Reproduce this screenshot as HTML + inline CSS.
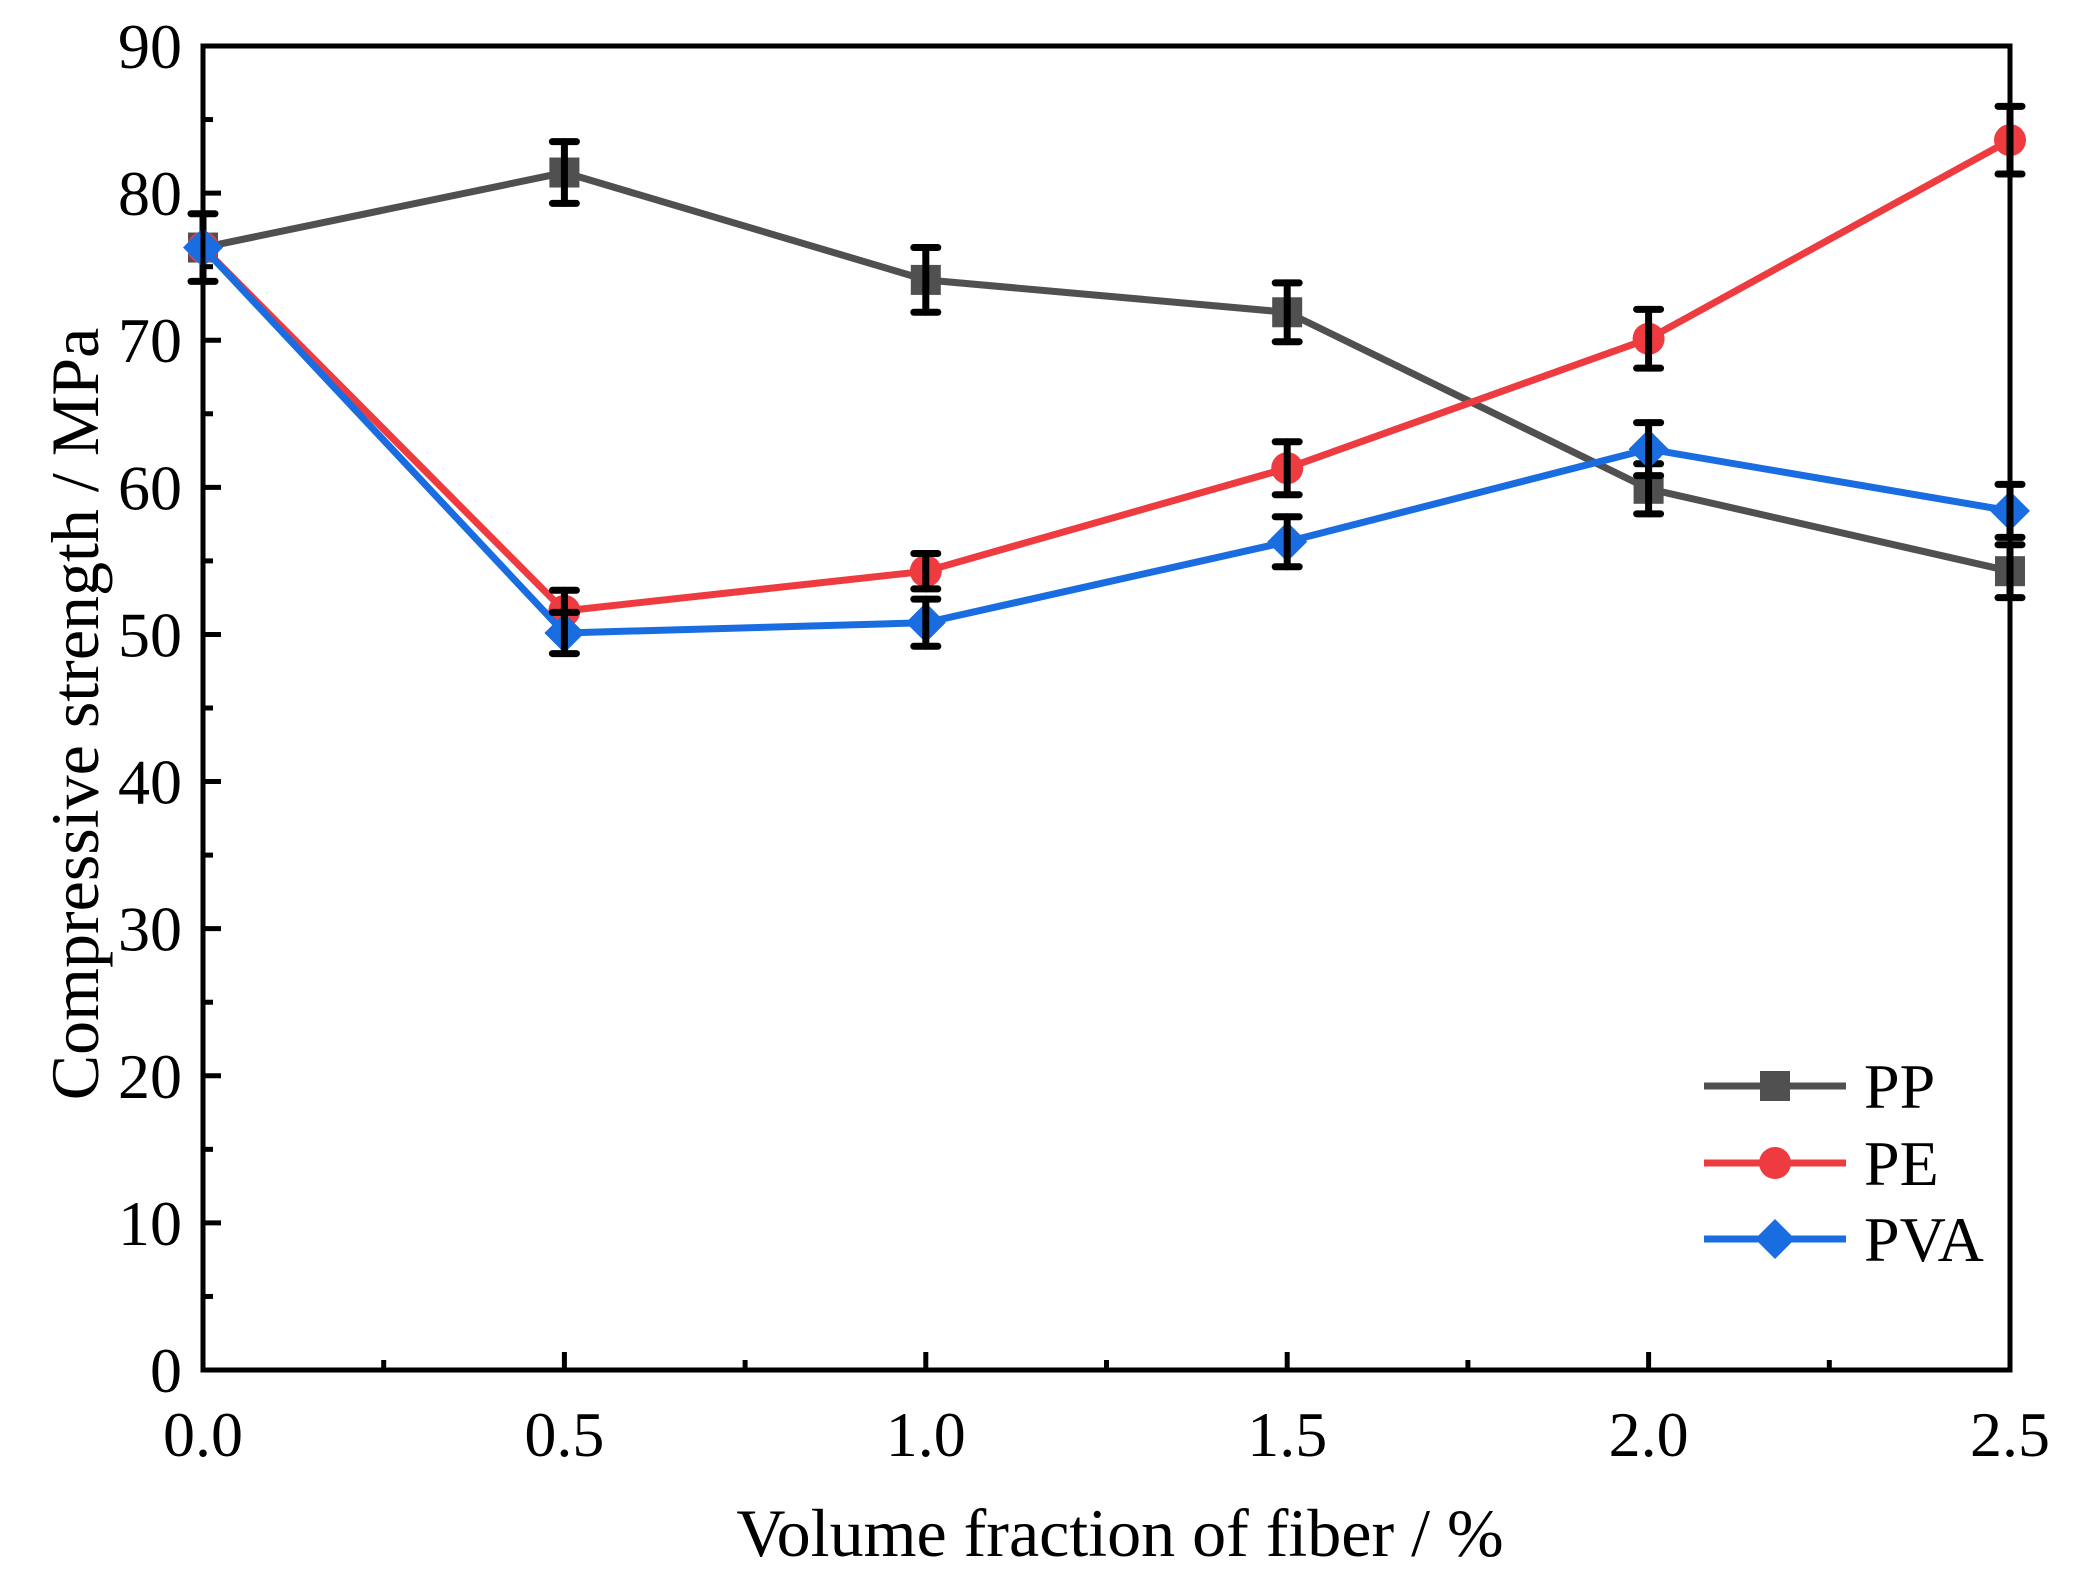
<!DOCTYPE html>
<html><head><meta charset="utf-8"><style>
html,body{margin:0;padding:0;background:#fff;}
svg text{font-family:"Liberation Serif",serif;fill:#000;}
</style></head><body>
<svg id="chart" width="2092" height="1588" viewBox="0 0 2092 1588" xmlns="http://www.w3.org/2000/svg">
<g id="grid"></g><g id="series"></g><g id="axes"></g><g id="legend"></g>
</svg>
<script>
const xCats = [0, 0.5, 1.0, 1.5, 2.0, 2.5];
const ppVals = [76.3, 81.4, 74.1, 71.9, 59.9, 54.3];
const ppErr = [2.3, 2.1, 2.2, 2.0, 1.7, 1.8];
const peVals = [76.3, 51.6, 54.3, 61.3, 70.1, 83.6];
const peErr = [0, 1.4, 1.2, 1.8, 2.0, 2.3];
const pvaVals = [76.3, 50.1, 50.8, 56.3, 62.6, 58.4];
const pvaErr = [0, 1.4, 1.6, 1.7, 1.8, 1.8];
const yTicks = [0, 10, 20, 30, 40, 50, 60, 70, 80, 90];
const xTickLabels = ["0.0", "0.5", "1.0", "1.5", "2.0", "2.5"];
const seriesNames = ["PP", "PE", "PVA"];

const NS = "http://www.w3.org/2000/svg";
const X0 = 203, X1 = 2010, Y0 = 1370, Y1 = 46;
const xs = v => X0 + (v - 0) / 2.5 * (X1 - X0);
const ys = v => Y0 - (v - 0) / 90 * (Y0 - Y1);
function mk(tag, attrs, parent) {
  const e = document.createElementNS(NS, tag);
  for (const k in attrs) e.setAttribute(k, attrs[k]);
  parent.appendChild(e); return e;
}
const axes = document.getElementById('axes');
const series = document.getElementById('series');
const legend = document.getElementById('legend');

const frame = mk('rect', {x: X0, y: Y1, width: X1 - X0, height: Y0 - Y1, fill: 'none', stroke: '#000', 'stroke-width': 5}, axes);



yTicks.forEach(t => {
  const y = ys(t);
  const tk = mk('line', {x1: X0, x2: X0 + 18, y1: y, y2: y, stroke: '#000', 'stroke-width': 5}, axes);
  
  
  if (t < 90) {
    const m = mk('line', {x1: X0, x2: X0 + 10, y1: ys(t + 5), y2: ys(t + 5), stroke: '#000', 'stroke-width': 5}, axes);
    
    
  }
  const lb = mk('text', {x: 182, y: y + 22, 'font-size': 64, 'text-anchor': 'end'}, axes);
  lb.textContent = t;
  
  
});
xCats.forEach((c, i) => {
  const x = xs(c);
  const tk = mk('line', {x1: x, x2: x, y1: Y0, y2: Y0 - 18, stroke: '#000', 'stroke-width': 5}, axes);
  
  
  if (i < xCats.length - 1) {
    const mx = xs(c + 0.25);
    const m = mk('line', {x1: mx, x2: mx, y1: Y0, y2: Y0 - 10, stroke: '#000', 'stroke-width': 5}, axes);
    
    
  }
  const lb = mk('text', {x: x, y: 1456, 'font-size': 64, 'text-anchor': 'middle'}, axes);
  lb.textContent = xTickLabels[i];
  
  
});
const xt = mk('text', {x: 1120, y: 1556, 'font-size': 68, 'text-anchor': 'middle'}, axes);
xt.textContent = 'Volume fraction of fiber / %';


const yt = mk('text', {x: 0, y: 0, 'font-size': 68, 'text-anchor': 'middle', transform: 'translate(98,714) rotate(-90)'}, axes);
yt.textContent = 'Compressive strength / MPa';



function marker(kind, x, y, color, parent) {
  let e;
  if (kind === 'square') e = mk('rect', {x: x - 15, y: y - 15, width: 30, height: 30, fill: color}, parent);
  else if (kind === 'circle') e = mk('circle', {cx: x, cy: y, r: 16, fill: color}, parent);
  else e = mk('polygon', {points: `${x},${y-20} ${x+20},${y} ${x},${y+20} ${x-20},${y}`, fill: color}, parent);
  return e;
}
const defs = [
  {name: 'pp', vals: ppVals, err: ppErr, color: '#505050', kind: 'square'},
  {name: 'pe', vals: peVals, err: peErr, color: '#ee3b3f', kind: 'circle'},
  {name: 'pva', vals: pvaVals, err: pvaErr, color: '#1a6de0', kind: 'diamond'}
];
defs.forEach(s => {
  const g = mk('g', {}, series);
  
  
  const pts = s.vals.map((v, i) => xs(xCats[i]) + ',' + ys(v)).join(' ');
  const pl = mk('polyline', {points: pts, fill: 'none', stroke: s.color, 'stroke-width': 7}, g);
  
  
  s.vals.forEach((v, i) => {
    const m = marker(s.kind, xs(xCats[i]), ys(v), s.color, g);
    
    
  });
  s.vals.forEach((v, i) => {
    const e = s.err[i]; if (!e) return;
    const x = xs(xCats[i]);
    const eg = mk('g', {stroke: '#000', 'stroke-width': 7, 'stroke-linecap': 'round'}, g);
    
    
    mk('line', {x1: x, x2: x, y1: ys(v - e), y2: ys(v + e)}, eg);
    mk('line', {x1: x - 12, x2: x + 12, y1: ys(v - e), y2: ys(v - e)}, eg);
    mk('line', {x1: x - 12, x2: x + 12, y1: ys(v + e), y2: ys(v + e)}, eg);
  });
});
const ly = [1086, 1163, 1239];
defs.forEach((s, i) => {
  const g = mk('g', {}, legend);
  
  
  mk('line', {x1: 1704, x2: 1846, y1: ly[i], y2: ly[i], stroke: s.color, 'stroke-width': 7}, g);
  marker(s.kind, 1775, ly[i], s.color, g);
  const t = mk('text', {x: 1864, y: ly[i] + 22, 'font-size': 64}, g);
  t.textContent = seriesNames[i];
});
</script>
</body></html>
